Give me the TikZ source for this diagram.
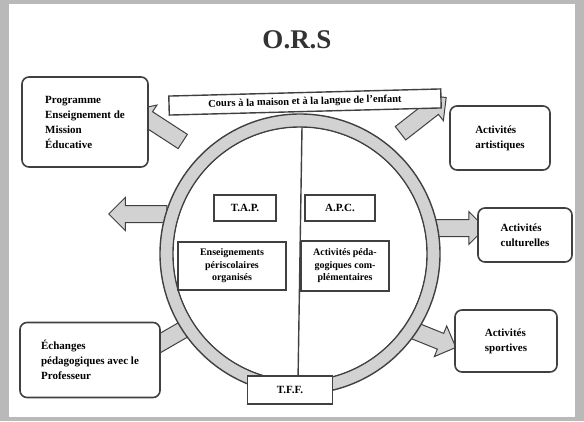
\documentclass[tikz,border=0pt]{standalone}
\usepackage{fontspec}
\setmainfont{Liberation Serif}
\usetikzlibrary{shapes.arrows}
\begin{document}
\begin{tikzpicture}[x=1pt,y=-1pt,
  outerbox/.style={draw=black!75, line width=1.6pt, rounded corners=7pt, fill=white,
     align=left, font=\bfseries\fontsize{11}{15}\selectfont, inner sep=6pt},
  innerbox/.style={draw=black!75, line width=1.4pt, fill=white,
     align=center, font=\bfseries\fontsize{10}{12.5}\selectfont, inner sep=4pt},
  blockarrow/.style={single arrow, draw=black!75, line width=1pt, fill=gray!35,
     minimum height=58pt, inner sep=8pt, single arrow head extend=8pt,
     single arrow tip angle=90},
  ring/.style={draw=black!75, line width=1.4pt, fill=gray!35}]
\useasboundingbox (0,0) rectangle (584,421);
% frame
\fill[gray!55] (0,0) rectangle (584,421);
\fill[white] (9,4) rectangle (575,417);
% title
\node[font=\bfseries\fontsize{27}{30}\selectfont, text=black!80] (title) at (297,40) {O.R.S};
% arrows (behind ring)
\node[blockarrow, rotate=147] (aul) at (162,128) {};
\node[blockarrow, rotate=38] (aur) at (420,118) {};
\node[blockarrow, rotate=0] (ar) at (452,228) {};
\node[blockarrow, rotate=-22] (abr) at (425,335) {};
\node[blockarrow, rotate=210] (abl) at (162,342) {};
\node[blockarrow, rotate=180] (al) at (142,214) {};
% ring
\coordinate (c) at (300,254);
\draw[ring, even odd rule] (c) circle[radius=140pt] (c) circle[radius=127pt];
\fill[white] (c) circle[radius=126pt];
\coordinate (vtop) at (302,127);
\coordinate (vbot) at (298,381);
\draw[black!75, line width=1.4pt] (vtop) -- (vbot);
% banner
\node[innerbox, rotate=1.5, minimum width=272pt, minimum height=19pt, font=\bfseries\fontsize{10.5}{12}\selectfont] (banner) at (305,102)
  {Cours à la maison et à la langue de l'enfant};
% inner boxes
\node[innerbox, minimum width=62pt, minimum height=26pt, font=\bfseries\fontsize{11}{13}\selectfont] (tap) at (245,208) {T.A.P.};
\node[innerbox, minimum width=70pt, minimum height=26pt, font=\bfseries\fontsize{11}{13}\selectfont] (apc) at (340,208) {A.P.C.};
\node[innerbox, minimum width=108pt, minimum height=48pt] (lbox) at (232,266)
  {Enseignements\\ périscolaires\\ organisés};
\node[innerbox, minimum width=88pt, minimum height=50pt] (rbox) at (345,266)
  {Activités péda-\\gogiques com-\\plémentaires};
\node[innerbox, minimum width=85pt, minimum height=28pt, font=\bfseries\fontsize{11}{13}\selectfont] (tff) at (290,390) {T.F.F.};
% outer boxes
\node[outerbox, minimum width=126pt, minimum height=90pt] (tl) at (85,122)
  {Programme\\ Enseignement de\\ Mission\\ Éducative};
\node[outerbox, minimum width=100pt, minimum height=64pt] (tr) at (500,138)
  {Activités\\ artistiques};
\node[outerbox, minimum width=94pt, minimum height=54pt] (r) at (525,235)
  {Activités\\ culturelles};
\node[outerbox, minimum width=102pt, minimum height=62pt] (br) at (506,341)
  {Activités\\ sportives};
\node[outerbox, minimum width=140pt, minimum height=75pt] (bl) at (90,360)
  {Échanges\\ pédagogiques avec le\\ Professeur};
\end{tikzpicture}
\end{document}
